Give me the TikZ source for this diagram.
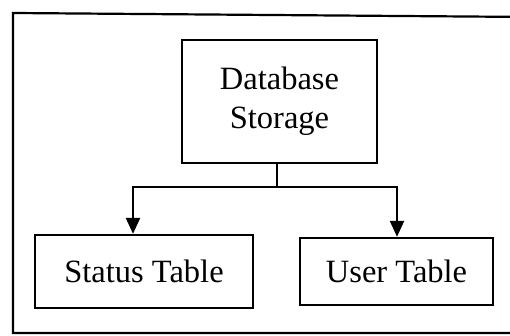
\documentclass[tikz,border=0pt]{standalone}
\usepackage{fontspec}
\setmainfont{Liberation Serif}
\usetikzlibrary{arrows.meta,positioning}
\begin{document}
\begin{tikzpicture}[x=1pt,y=-1pt,
  box/.style={draw,line width=2.3pt,rectangle,inner sep=0pt,align=center,
    font=\fontsize{32.5}{39}\selectfont},
  link/.style={line width=2.3pt},
  tip/.style={-{Triangle[width=14pt,length=16pt]}}]
\useasboundingbox (0,0) rectangle (510,336);
% outer frame, running off the right edge
\begin{scope}
  \clip (0,0) rectangle (510,336);
  \draw[line width=2.2pt] (530,17) -- (13,13) -- (13,333) -- (530,333);
\end{scope}
\node[box,minimum width=195pt,minimum height=123pt] (db) at (279.5,101.5) {Database\\Storage};
\node[box,minimum width=218pt,minimum height=73pt] (st) at (144,271.5) {Status Table};
\node[box,minimum width=193pt,minimum height=67pt] (ut) at (396.5,271.5) {User Table};
\coordinate (j) at (277,187);
\draw[link] (db.south -| j) -- (j);
\draw[link,tip] (j) -| (st.north -| 133,0);
\draw[link,tip] (j) -| (ut.north -| 397,0);
\end{tikzpicture}
\end{document}
